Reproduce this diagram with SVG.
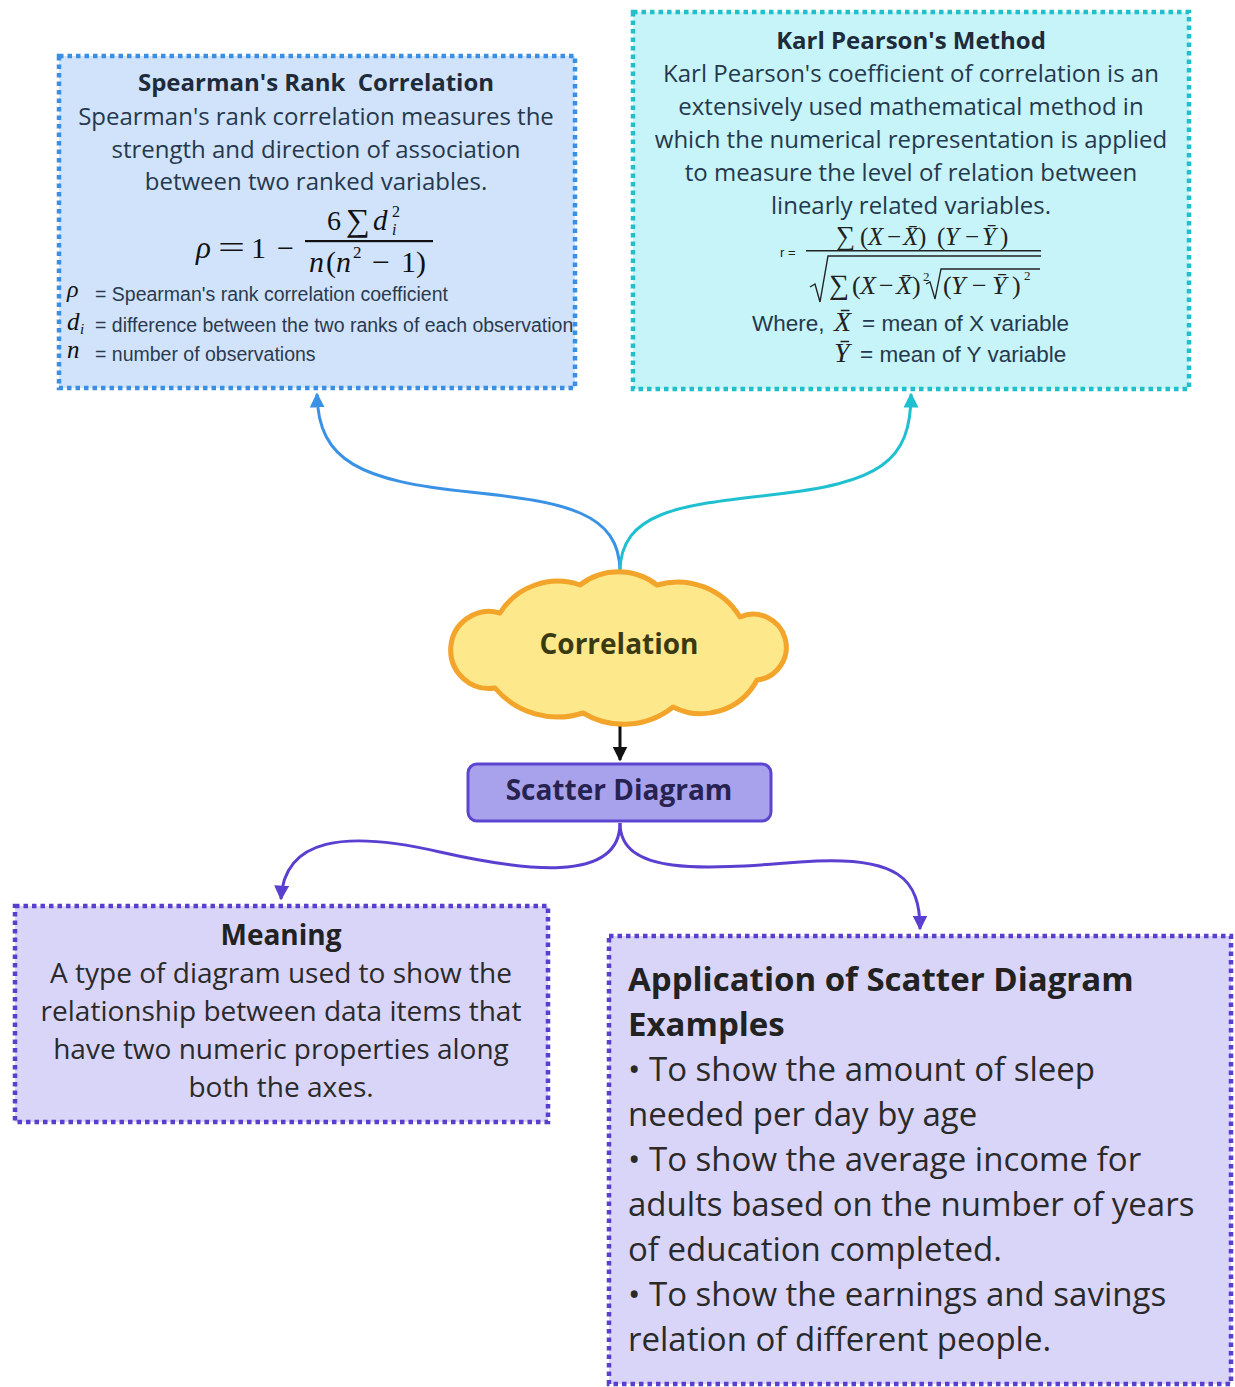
<svg xmlns="http://www.w3.org/2000/svg" width="1235" height="1387" viewBox="0 0 1235 1387">
  <defs>
    <style>
      .box { stroke-width: 4.5; stroke-dasharray: 4.5 4; }
      .t { font-family: "Open Sans", "Noto Sans", sans-serif; }
      .b { font-weight: 700; }
      .sans { font-family: "Liberation Sans", Arial, sans-serif; }
      .math { font-family: "Liberation Serif", "DejaVu Serif", serif; font-style: italic; }
      .rm { font-family: "Liberation Serif", "DejaVu Serif", serif; }
      .pre { white-space: pre; }
      .conn { fill: none; stroke-width: 3; }
    </style>
    <marker id="ah-blue" viewBox="0 0 10 10" refX="9" refY="5" markerWidth="5" markerHeight="5" orient="auto" markerUnits="strokeWidth">
      <path d="M0,0 L10,5 L0,10 z" fill="#3a92e4"/>
    </marker>
    <marker id="ah-cyan" viewBox="0 0 10 10" refX="9" refY="5" markerWidth="5" markerHeight="5" orient="auto" markerUnits="strokeWidth">
      <path d="M0,0 L10,5 L0,10 z" fill="#1fc0d0"/>
    </marker>
    <marker id="ah-black" viewBox="0 0 10 10" refX="9" refY="5" markerWidth="5" markerHeight="5" orient="auto" markerUnits="strokeWidth">
      <path d="M0,0 L10,5 L0,10 z" fill="#111"/>
    </marker>
    <marker id="ah-purple" viewBox="0 0 10 10" refX="9" refY="5" markerWidth="5" markerHeight="5" orient="auto" markerUnits="strokeWidth">
      <path d="M0,0 L10,5 L0,10 z" fill="#5a3fd0"/>
    </marker>
  </defs>

  <rect width="1235" height="1387" fill="#ffffff"/>

  <!-- connectors -->
  <g id="connectors">
    <path class="conn" stroke="#3a92e4" marker-end="url(#ah-blue)" d="M620,572 C620,512 565,502 470,492 C362,481 318,462 317,394"/>
    <path class="conn" stroke="#1fc0d0" marker-end="url(#ah-cyan)" d="M620,572 C620,512 680,505 770,495 C880,483 911,462 911,394"/>
    <path class="conn" stroke="#111" marker-end="url(#ah-black)" d="M620,724 L620,760"/>
    <path class="conn" stroke="#5a3fd0" marker-end="url(#ah-purple)" d="M620,823 C620,885 520,870 440,852 C345,830 284,838 281,899"/>
    <path class="conn" stroke="#5a3fd0" marker-end="url(#ah-purple)" d="M620,823 C620,875 700,870 800,862 C900,854 920,880 920,929"/>
  </g>

  <!-- Spearman's rank correlation -->
  <g id="spearman">
    <rect class="box" x="59" y="56" width="516" height="332" fill="#d1e3fb" stroke="#3a8fe3"/>
    <text class="t b pre" x="316" y="91" font-size="24" text-anchor="middle" fill="#1e2b3a">Spearman's Rank  Correlation</text>
    <g class="t" font-size="24" text-anchor="middle" fill="#25384d">
      <text x="316" y="125">Spearman's rank correlation measures the</text>
      <text x="316" y="158">strength and direction of association</text>
      <text x="316" y="190">between two ranked variables.</text>
    </g>
    <!-- rho = 1 - 6 sum d_i^2 / n(n^2 - 1) -->
    <g fill="#111">
      <text class="math" x="196" y="258" font-size="31">ρ</text>
      <text class="rm" x="218" y="258" font-size="31" textLength="27" lengthAdjust="spacingAndGlyphs">=</text>
      <text class="rm" x="251" y="258" font-size="30">1</text>
      <text class="rm" x="277" y="258" font-size="30" textLength="17" lengthAdjust="spacingAndGlyphs">−</text>
      <text class="rm" x="327" y="230" font-size="28">6</text>
      <text class="rm" x="346" y="231" font-size="32" textLength="24" lengthAdjust="spacingAndGlyphs">∑</text>
      <text class="math" x="373" y="230" font-size="29">d</text>
      <text class="rm" x="392" y="217" font-size="16">2</text>
      <text class="math" x="392" y="235" font-size="16">i</text>
      <rect x="305" y="240" width="128" height="2.2"/>
      <text class="math" x="309" y="272" font-size="30">n</text>
      <text class="rm" x="326" y="272" font-size="30">(</text>
      <text class="math" x="336" y="272" font-size="30">n</text>
      <text class="rm" x="353" y="258" font-size="17">2</text>
      <text class="rm" x="372" y="272" font-size="30" textLength="18" lengthAdjust="spacingAndGlyphs">−</text>
      <text class="rm" x="401" y="272" font-size="30">1</text>
      <text class="rm" x="416" y="272" font-size="30">)</text>
    </g>
    <!-- legend -->
    <g fill="#2a3a4e">
      <text class="math" x="67" y="297" font-size="24" fill="#111">ρ</text>
      <text class="sans" x="95" y="301" font-size="19.5">= Spearman's rank correlation coefficient</text>
      <text class="math" x="67" y="330" font-size="25" fill="#111">d</text>
      <text class="math" x="80" y="334" font-size="15" fill="#111">i</text>
      <text class="sans" x="95" y="332" font-size="19.5">= difference between the two ranks of each observation</text>
      <text class="math" x="67" y="358" font-size="25" fill="#111">n</text>
      <text class="sans" x="95" y="361" font-size="19.5">= number of observations</text>
    </g>
  </g>

  <!-- Karl Pearson's method -->
  <g id="pearson">
    <rect class="box" x="633" y="12" width="556" height="377" fill="#c6f4f9" stroke="#1fbfcc"/>
    <text class="t b" x="911" y="49" font-size="24" text-anchor="middle" fill="#1e2b3a">Karl Pearson's Method</text>
    <g class="t" font-size="24" text-anchor="middle" fill="#25384d">
      <text x="911" y="82">Karl Pearson's coefficient of correlation is an</text>
      <text x="911" y="115">extensively used mathematical method in</text>
      <text x="911" y="148">which the numerical representation is applied</text>
      <text x="911" y="181">to measure the level of relation between</text>
      <text x="911" y="214">linearly related variables.</text>
    </g>
    <!-- r = sum(X - Xbar)(Y - Ybar) / sqrt(sum(X - Xbar)^2 sqrt((Y - Ybar)^2)) -->
    <g fill="#222">
      <text class="sans" x="780" y="257" font-size="13">r =</text>
      <text class="rm" y="245" font-size="25"><tspan x="836" font-size="27">∑</tspan><tspan x="860">(</tspan><tspan x="868" class="math">X</tspan><tspan x="887">−</tspan><tspan x="903" class="math">X̄</tspan><tspan x="918">)</tspan><tspan x="937">(</tspan><tspan x="945" class="math">Y</tspan><tspan x="965">−</tspan><tspan x="982" class="math">Ȳ</tspan><tspan x="1000">)</tspan></text>
      <rect x="806" y="250" width="235" height="1.5"/>
      <path d="M810,287 L815,284 L820,302 L828,256 L1041,256" fill="none" stroke="#222" stroke-width="1.4"/>
      <text class="rm" y="294" font-size="26"><tspan x="829" font-size="28">∑</tspan><tspan x="852">(</tspan><tspan x="860" class="math">X</tspan><tspan x="879">−</tspan><tspan x="896" class="math">X̄</tspan><tspan x="912">)</tspan></text>
      <text class="rm" x="923" y="281" font-size="13">2</text>
      <path d="M926,284 L930,282 L935,299 L941,269 L1040,269" fill="none" stroke="#222" stroke-width="1.3"/>
      <text class="rm" y="294" font-size="26"><tspan x="943">(</tspan><tspan x="951" class="math">Y</tspan><tspan x="972">−</tspan><tspan x="992" class="math">Ȳ</tspan><tspan x="1012">)</tspan></text>
      <text class="rm" x="1024" y="280" font-size="13">2</text>
    </g>
    <g fill="#25384d">
      <text class="sans" x="752" y="331" font-size="22.5">Where,</text>
      <text class="math" x="834" y="331" font-size="28" fill="#222">X̄</text>
      <text class="sans" x="862" y="331" font-size="22.5">= mean of X variable</text>
      <text class="math" x="834" y="362" font-size="28" fill="#222">Ȳ</text>
      <text class="sans" x="860" y="362" font-size="22.5">= mean of Y variable</text>
    </g>
  </g>

  <!-- Correlation (cloud) -->
  <g id="correlation">
    <path d="M500,613 A68,68 0 0 1 580,585 A63,63 0 0 1 657,585 A73,73 0 0 1 740,617 A33,33 0 1 1 757,680 A63,63 0 0 1 673,707 A79,79 0 0 1 583,713 A82,82 0 0 1 495,688 A38.5,38.5 0 1 1 500,613 Z" fill="#fde98c" stroke="#f2a52a" stroke-width="5" stroke-linejoin="round"/>
    <text class="t b" x="619" y="654" font-size="28" text-anchor="middle" fill="#3a3a12">Correlation</text>
  </g>

  <!-- Scatter Diagram -->
  <g id="scatter">
    <rect x="468" y="764" width="303" height="57" rx="9" fill="#a8a2ec" stroke="#5c45d0" stroke-width="3"/>
    <text class="t b" x="619" y="800" font-size="28" text-anchor="middle" fill="#272350">Scatter Diagram</text>
  </g>

  <!-- Meaning -->
  <g id="meaning">
    <rect class="box" x="15" y="906" width="533" height="216" fill="#d9d5f9" stroke="#5a3fcf"/>
    <text class="t b" x="281" y="945" font-size="28" text-anchor="middle" fill="#222">Meaning</text>
    <g class="t" font-size="28" text-anchor="middle" fill="#2a2a2a">
      <text x="281" y="983">A type of diagram used to show the</text>
      <text x="281" y="1021">relationship between data items that</text>
      <text x="281" y="1059">have two numeric properties along</text>
      <text x="281" y="1097">both the axes.</text>
    </g>
  </g>

  <!-- Application of Scatter Diagram -->
  <g id="application">
    <rect class="box" x="609" y="936" width="622" height="448" fill="#d9d5f9" stroke="#5a3fcf"/>
    <g class="t b" font-size="33" fill="#222">
      <text x="628" y="991">Application of Scatter Diagram</text>
      <text x="628" y="1036">Examples</text>
    </g>
    <g class="t" font-size="33" fill="#2a2a2a">
      <text x="628" y="1081">• To show the amount of sleep</text>
      <text x="628" y="1126">needed per day by age</text>
      <text x="628" y="1171">• To show the average income for</text>
      <text x="628" y="1216">adults based on the number of years</text>
      <text x="628" y="1261">of education completed.</text>
      <text x="628" y="1306">• To show the earnings and savings</text>
      <text x="628" y="1351">relation of different people.</text>
    </g>
  </g>
</svg>
